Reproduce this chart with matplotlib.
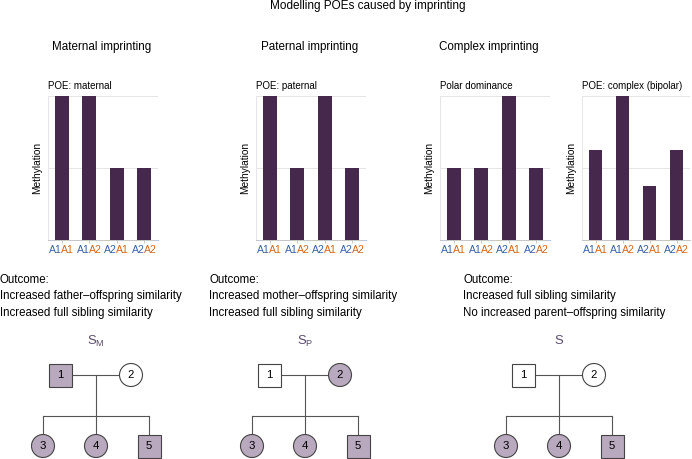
import matplotlib
matplotlib.use("Agg")
import matplotlib.pyplot as plt
from matplotlib.patches import Rectangle, Circle

plt.rcParams['font.family'] = ['Liberation Sans', 'DejaVu Sans']
plt.rcParams['mathtext.default'] = 'regular'

W, H = 692, 459

# bar chart data
genotypes_first = ["A1", "A1", "A2", "A2"]
genotypes_second = ["A1", "A2", "A1", "A2"]
maternal = [1.0, 1.0, 0.5, 0.5]
paternal = [1.0, 0.5, 1.0, 0.5]
polar = [0.5, 0.5, 1.0, 0.5]
bipolar = [0.625, 1.0, 0.375, 0.625]

bar_titles = ["POE: maternal", "POE: paternal", "Polar dominance", "POE: complex (bipolar)"]
bar_values = [maternal, paternal, polar, bipolar]

section_titles = ["Maternal imprinting", "Paternal imprinting", "Complex imprinting"]
outcomes = [
    "Outcome:\nIncreased father\u2013offspring similarity\nIncreased full sibling similarity",
    "Outcome:\nIncreased mother\u2013offspring similarity\nIncreased full sibling similarity",
    "Outcome:\nIncreased full sibling similarity\nNo increased parent\u2013offspring similarity",
]

# pedigree data
ped_labels = ["S$_M$", "S$_P$", "S"]
ped_ids = ["1", "2", "3", "4", "5"]
ped_sex = ["M", "F", "F", "F", "M"]
ped_affected = [
    [1, 0, 1, 1, 1],
    [0, 1, 1, 1, 1],
    [0, 0, 1, 1, 1],
]

BAR_COLOR = "#45284c"
FILL = "#b9a9bf"
BLUE = "#3b63a8"
ORANGE = "#d46a1f"
LINE = "#555555"


def rect(left, top, right, bottom):
    return [left / W, 1 - bottom / H, (right - left) / W, (bottom - top) / H]


fig = plt.figure(figsize=(W / 100, H / 100), dpi=100)
bg = fig.add_axes([0, 0, 1, 1])
bg.set_xlim(0, W)
bg.set_ylim(H, 0)
bg.axis("off")

fs = 7.9
fs_small = 7.0

bg.text(368, 6, "Modelling POEs caused by imprinting", ha="center", va="center", fontsize=8.5)
for t, x in zip(section_titles, [102, 310, 489]):
    bg.text(x, 47, t, ha="center", va="center", fontsize=fs + 0.5)

# bar panels
bar_rects = [(48, 158), (256, 366), (440, 550), (582, 690)]
for (l, r), vals, title in zip(bar_rects, bar_values, bar_titles):
    ax = fig.add_axes(rect(l, 96, r, 240))
    x = range(len(vals))
    ax.bar(x, vals, width=0.5, color=BAR_COLOR, zorder=3)
    ax.set_xlim(-0.5, 3.5)
    ax.set_ylim(0, 1.0)
    ax.set_yticks([0.5, 1.0])
    ax.set_yticklabels([])
    ax.tick_params(axis="y", length=0)
    ax.yaxis.grid(True, color="#e2e2e2", lw=0.6, zorder=0)
    ax.set_xticks(list(x))
    ax.set_xticklabels([])
    ax.tick_params(axis="x", length=2, color="#bbbbbb", width=0.6)
    for s in ["top", "right"]:
        ax.spines[s].set_visible(False)
    ax.spines["left"].set_color("#e2e2e2")
    ax.spines["left"].set_linewidth(0.6)
    ax.spines["bottom"].set_color("#bbbbbb")
    ax.spines["bottom"].set_linewidth(0.6)
    ax.set_ylabel("Methylation", fontsize=fs_small + 0.3, labelpad=0.5)
    ax.set_title(title, loc="left", fontsize=fs_small, pad=5)
    for i, (a, b) in enumerate(zip(genotypes_first, genotypes_second)):
        t1 = ax.annotate(a, xy=(i, 0), xycoords=ax.get_xaxis_transform(), xytext=(0.3, -7.5),
                         textcoords="offset points", ha="right", va="center", fontsize=7.6, color=BLUE)
        ax.annotate(b, xy=(1, 0.5), xycoords=t1, xytext=(-0.6, 0), textcoords="offset points",
                    ha="left", va="center", fontsize=7.6, color=ORANGE)

# outcome text
for t, x in zip(outcomes, [0, 209, 463]):
    bg.text(x, 274, t, ha="left", va="top", fontsize=fs + 0.4, linespacing=1.5)

# pedigrees
ped_centers = [96, 305, 559]
y_par, y_sib, y_kid = 375, 416, 446
half, rad = 11.5, 11.5


def draw_person(cx, cy, sex, affected, label):
    fc = FILL if affected else "white"
    if sex == "M":
        p = Rectangle((cx - half, cy - half), 2 * half, 2 * half, fc=fc, ec="#444444", lw=0.8, zorder=3)
    else:
        p = Circle((cx, cy), rad, fc=fc, ec="#444444", lw=0.8, zorder=3)
    bg.add_patch(p)
    bg.text(cx, cy, label, ha="center", va="center", fontsize=fs + 0.3, zorder=4)


for cx, lab, aff in zip(ped_centers, ped_labels, ped_affected):
    bg.text(cx, 341, lab, ha="center", va="center", fontsize=fs + 1.5, color="#5a4c6c")
    px = [cx - 36, cx + 35]
    kx = [cx - 53, cx, cx + 53]
    bg.plot(px, [y_par, y_par], color=LINE, lw=0.8, zorder=2)
    bg.plot([cx, cx], [y_par, y_sib], color=LINE, lw=0.8, zorder=2)
    bg.plot([kx[0], kx[-1]], [y_sib, y_sib], color=LINE, lw=0.8, zorder=2)
    for k in kx:
        bg.plot([k, k], [y_sib, y_kid], color=LINE, lw=0.8, zorder=2)
    xs = px + kx
    ys = [y_par, y_par, y_kid, y_kid, y_kid]
    for xx, yy, sex, a, pid in zip(xs, ys, ped_sex, aff, ped_ids):
        draw_person(xx, yy, sex, a, pid)

fig.savefig("out.png", dpi=100)
